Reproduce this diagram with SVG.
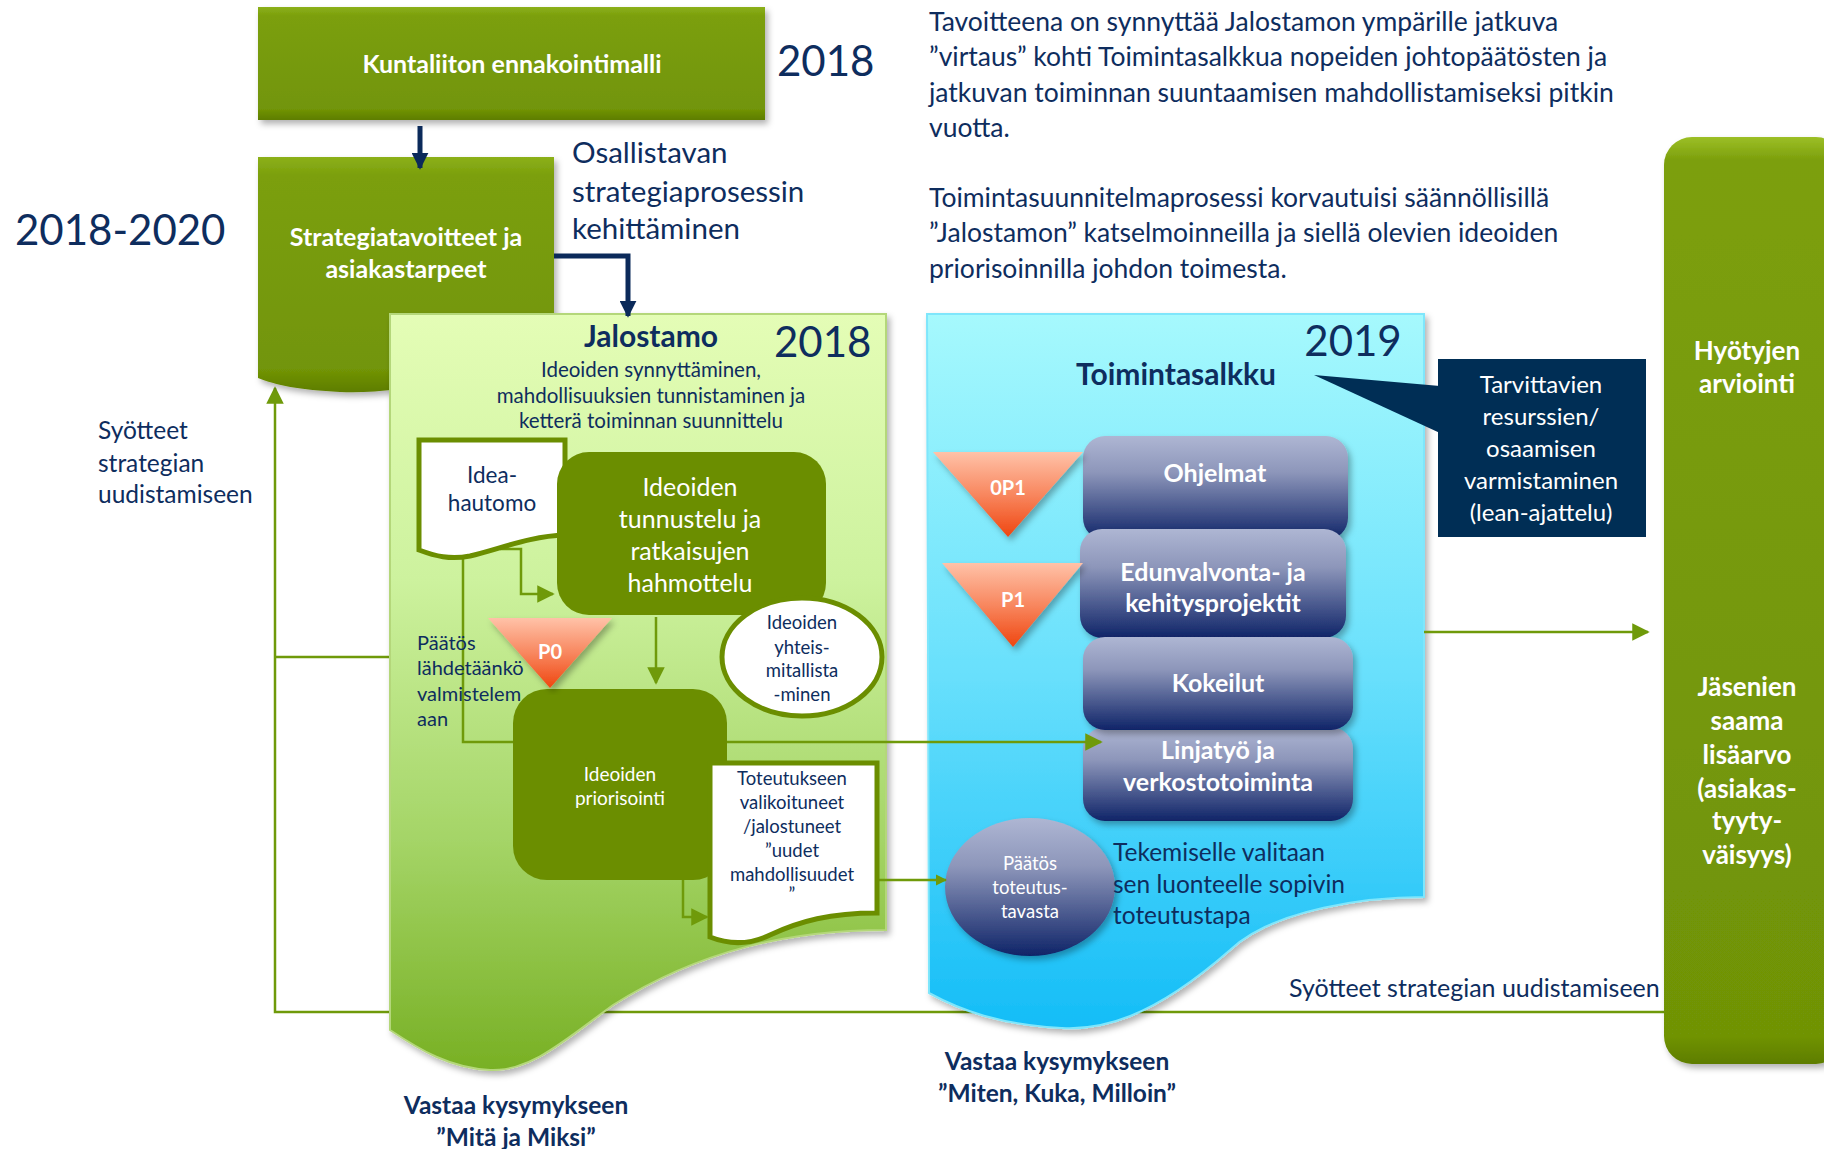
<svg xmlns="http://www.w3.org/2000/svg" width="1824" height="1149" viewBox="0 0 1824 1149">
<defs>
<style>
text{font-family:Lato,"Open Sans","Liberation Sans",sans-serif;}
.navy{fill:#0e2d5e;}
.wh{fill:#ffffff;}
.b{font-weight:bold;}
.mid{text-anchor:middle;}
.gl{fill:none;stroke:#6f9a0a;stroke-width:2.5;}
.nl{fill:none;stroke:#0b2a5a;stroke-width:5;}
.doc{fill:#ffffff;stroke:#6b8e00;stroke-width:5;}
.dg{fill:#6b8e00;}
</style>
<linearGradient id="gGreen" x1="0" y1="0" x2="0" y2="1">
<stop offset="0" stop-color="#8cb01a"/><stop offset="0.08" stop-color="#7b9f0c"/><stop offset="0.9" stop-color="#729507"/><stop offset="1" stop-color="#5e7d00"/>
</linearGradient>
<linearGradient id="gGreenTall" x1="0" y1="0" x2="0" y2="1">
<stop offset="0" stop-color="#9cbf26"/><stop offset="0.025" stop-color="#7c9f0c"/><stop offset="0.97" stop-color="#709306"/><stop offset="1" stop-color="#5e7d00"/>
</linearGradient>
<linearGradient id="gJal" x1="0" y1="0" x2="0" y2="1">
<stop offset="0" stop-color="#e4fdb6"/><stop offset="0.35" stop-color="#cdf29e"/><stop offset="0.7" stop-color="#a4d466"/><stop offset="1" stop-color="#78b024"/>
</linearGradient>
<linearGradient id="gBlue" x1="0" y1="0" x2="0" y2="1">
<stop offset="0" stop-color="#a6f9fd"/><stop offset="0.5" stop-color="#69e0fc"/><stop offset="1" stop-color="#14bdf7"/>
</linearGradient>
<linearGradient id="gPurp" x1="0" y1="0" x2="0" y2="1">
<stop offset="0" stop-color="#aeb6d3"/><stop offset="0.35" stop-color="#8d96ba"/><stop offset="1" stop-color="#0f2468"/>
</linearGradient>
<linearGradient id="gTri" x1="0" y1="0" x2="0" y2="1">
<stop offset="0" stop-color="#ffc2a8"/><stop offset="0.5" stop-color="#f8875f"/><stop offset="1" stop-color="#ef4610"/>
</linearGradient>
<filter id="sh" x="-5%" y="-5%" width="115%" height="115%">
<feDropShadow dx="3" dy="4" stdDeviation="3" flood-color="#000" flood-opacity="0.3"/>
</filter>
<marker id="aN" viewBox="0 0 10 10" refX="9" refY="5" markerWidth="3.4" markerHeight="3.4" orient="auto" markerUnits="strokeWidth">
<path d="M0,0 L10,5 L0,10 Z" fill="#0b2a5a"/>
</marker>
<marker id="aG" viewBox="0 0 10 10" refX="9" refY="5" markerWidth="7" markerHeight="7" orient="auto" markerUnits="strokeWidth">
<path d="M0,0 L10,5 L0,10 Z" fill="#6f9a0a"/>
</marker>
<marker id="aG2" viewBox="0 0 10 10" refX="9" refY="5" markerWidth="4.5" markerHeight="4.5" orient="auto" markerUnits="strokeWidth">
<path d="M0,0 L10,5 L0,10 Z" fill="#6f9a0a"/>
</marker>
</defs>
<rect width="1824" height="1149" fill="#ffffff"/>

<g id="connectors-back">
<path class="gl" d="M1664,1012 H275 V388" marker-end="url(#aG)"/>
<path class="gl" d="M390,657 H275"/>
</g>

<g id="strategia">
<path d="M258,157 H554 V360 C480,368 420,395 340,392 C300,390 275,385 258,378 Z" fill="url(#gGreen)" filter="url(#sh)"/>
<text class="wh b mid" x="406" y="246" font-size="25">Strategiatavoitteet ja</text>
<text class="wh b mid" x="406" y="278" font-size="25">asiakastarpeet</text>
</g>

<g id="kuntaliitto">
<rect x="258" y="7" width="507" height="113" fill="url(#gGreen)" filter="url(#sh)"/>
<text class="wh b mid" x="512" y="73" font-size="25">Kuntaliiton ennakointimalli</text>
</g>

<g id="jalostamo">
<path d="M390,314 H886 V930 C790,930 700,950 613,1005 C565,1040 530,1072 490,1070 C450,1068 420,1050 390,1030 Z" fill="url(#gJal)" stroke="#b4d77a" stroke-width="2" filter="url(#sh)"/>
<text class="navy b mid" x="651" y="347" font-size="30">Jalostamo</text>
<text class="navy" x="774" y="357" font-size="42">2018</text>
<text class="navy mid" x="651" y="377" font-size="20.5">Ideoiden synnyttäminen,</text>
<text class="navy mid" x="651" y="403" font-size="20.5">mahdollisuuksien tunnistaminen ja</text>
<text class="navy mid" x="651" y="428" font-size="20.5">ketterä toiminnan suunnittelu</text>
</g>

<g id="toimintasalkku">
<path d="M927,314 H1424 V897 C1370,897 1275,908 1230,950 C1150,1020 1100,1030 1062,1028 C1000,1025 960,1010 929,993 Z" fill="url(#gBlue)" stroke="#7fe6fb" stroke-width="2" filter="url(#sh)"/>
<text class="navy mid" x="1353" y="356" font-size="42">2019</text>
<text class="navy b mid" x="1176" y="385" font-size="30">Toimintasalkku</text>
</g>

<g id="ohjelmat">
<rect x="1083" y="436" width="265" height="104" rx="22" fill="url(#gPurp)" filter="url(#sh)"/>
<text class="wh b mid" x="1215" y="482" font-size="25">Ohjelmat</text>
</g>
<g id="edunvalvonta">
<rect x="1080" y="529" width="266" height="109" rx="22" fill="url(#gPurp)" filter="url(#sh)"/>
<text class="wh b mid" x="1213" y="581" font-size="25">Edunvalvonta- ja</text>
<text class="wh b mid" x="1213" y="612" font-size="25">kehitysprojektit</text>
</g>
<g id="linjatyo">
<rect x="1083" y="727" width="270" height="94" rx="22" fill="url(#gPurp)" filter="url(#sh)"/>
<text class="wh b mid" x="1218" y="759" font-size="25">Linjatyö ja</text>
<text class="wh b mid" x="1218" y="791" font-size="25">verkostotoiminta</text>
</g>
<g id="kokeilut">
<rect x="1083" y="637" width="270" height="93" rx="22" fill="url(#gPurp)" filter="url(#sh)"/>
<text class="wh b mid" x="1218" y="692" font-size="25">Kokeilut</text>
</g>

<g id="op1">
<path d="M933,452 H1083 L1008,537 Z" fill="url(#gTri)" filter="url(#sh)"/>
<text class="wh b mid" x="1008" y="495" font-size="20">0P1</text>
</g>
<g id="p1">
<path d="M942,563 H1083 L1013,647 Z" fill="url(#gTri)" filter="url(#sh)"/>
<text class="wh b mid" x="1013" y="607" font-size="20">P1</text>
</g>

<g id="paatos-toteutus">
<ellipse cx="1030" cy="887" rx="85" ry="69" fill="url(#gPurp)" filter="url(#sh)"/>
<text class="wh mid" x="1030" y="870" font-size="18.5">Päätös</text>
<text class="wh mid" x="1030" y="894" font-size="18.5">toteutus-</text>
<text class="wh mid" x="1030" y="918" font-size="18.5">tavasta</text>
</g>

<g id="connectors">
<path class="nl" d="M420,126 V168" marker-end="url(#aN)"/>
<path class="nl" d="M554,256 H628 V316" marker-end="url(#aN)"/>
<path class="gl" d="M463,557 V742 H1101" marker-end="url(#aG)"/>
<path class="gl" d="M500,549 H521 V594 H553" marker-end="url(#aG)"/>
<path class="gl" d="M656,617 V683" marker-end="url(#aG)"/>
<path class="gl" d="M683,880 V917 H707" marker-end="url(#aG)"/>
<path class="gl" stroke-width="4" d="M877,880 H946" marker-end="url(#aG2)"/>
<path class="gl" stroke-width="3" d="M1424,632 H1648" marker-end="url(#aG)"/>
</g>

<g id="ideahautomo">
<path class="doc" d="M419,440 H565 V535 C530,536 500,549 470,556 C450,560 435,556 419,550 Z"/>
<text class="navy mid" x="492" y="483" font-size="22.5">Idea-</text>
<text class="navy mid" x="492" y="511" font-size="22.5">hautomo</text>
</g>

<g id="tunnustelu">
<rect class="dg" x="557" y="452" width="269" height="163" rx="32"/>
<text class="wh mid" x="690" y="496" font-size="25">Ideoiden</text>
<text class="wh mid" x="690" y="528" font-size="25">tunnustelu ja</text>
<text class="wh mid" x="690" y="560" font-size="25">ratkaisujen</text>
<text class="wh mid" x="690" y="592" font-size="25">hahmottelu</text>
</g>

<g id="yhteismitallistaminen">
<ellipse class="doc" cx="802" cy="657" rx="80" ry="59"/>
<text class="navy mid" x="802" y="629" font-size="18.5">Ideoiden</text>
<text class="navy mid" x="802" y="654" font-size="18.5">yhteis-</text>
<text class="navy mid" x="802" y="677" font-size="18.5">mitallista</text>
<text class="navy mid" x="802" y="701" font-size="18.5">-minen</text>
</g>

<g id="paatos-text">
<text class="navy" x="417" y="650" font-size="20">Päätös</text>
<text class="navy" x="417" y="675" font-size="20">lähdetäänkö</text>
<text class="navy" x="417" y="701" font-size="20">valmistelem</text>
<text class="navy" x="417" y="726" font-size="20">aan</text>
</g>

<g id="priorisointi">
<rect class="dg" x="513" y="689" width="214" height="191" rx="34"/>
<text class="wh mid" x="620" y="781" font-size="19">Ideoiden</text>
<text class="wh mid" x="620" y="805" font-size="19">priorisointi</text>
</g>

<g id="p0">
<path d="M488,618 H612 L550,688 Z" fill="url(#gTri)" filter="url(#sh)"/>
<text class="wh b mid" x="550" y="659" font-size="20">P0</text>
</g>

<g id="toteutukseen">
<path class="doc" d="M710,763 H877 V913 C830,913 800,921 770,935 C745,947 725,943 710,937 Z"/>
<text class="navy mid" x="792" y="785" font-size="18.5">Toteutukseen</text>
<text class="navy mid" x="792" y="809" font-size="18.5">valikoituneet</text>
<text class="navy mid" x="792" y="833" font-size="18.5">/jalostuneet</text>
<text class="navy mid" x="792" y="857" font-size="18.5">”uudet</text>
<text class="navy mid" x="792" y="881" font-size="18.5">mahdollisuudet</text>
<text class="navy mid" x="792" y="901" font-size="18.5">”</text>
</g>

<g id="tekemiselle">
<text class="navy" x="1113" y="861" font-size="24.5">Tekemiselle valitaan</text>
<text class="navy" x="1113" y="893" font-size="24.5">sen luonteelle sopivin</text>
<text class="navy" x="1113" y="924" font-size="24.5">toteutustapa</text>
</g>

<g id="callout">
<path d="M1314,375 L1440,386 L1440,433 Z" fill="#002e55"/>
<rect x="1438" y="359" width="208" height="178" fill="#002e55"/>
<text class="wh mid" x="1541" y="393" font-size="24">Tarvittavien</text>
<text class="wh mid" x="1541" y="425" font-size="24">resurssien/</text>
<text class="wh mid" x="1541" y="457" font-size="24">osaamisen</text>
<text class="wh mid" x="1541" y="489" font-size="24">varmistaminen</text>
<text class="wh mid" x="1541" y="521" font-size="24">(lean-ajattelu)</text>
</g>

<g id="hyodyt">
<rect x="1664" y="137" width="180" height="927" rx="28" fill="url(#gGreenTall)" filter="url(#sh)"/>
<text class="wh b mid" x="1747" y="360" font-size="26">Hyötyjen</text>
<text class="wh b mid" x="1747" y="393" font-size="26">arviointi</text>
<text class="wh b mid" x="1747" y="696" font-size="26">Jäsenien</text>
<text class="wh b mid" x="1747" y="730" font-size="26">saama</text>
<text class="wh b mid" x="1747" y="764" font-size="26">lisäarvo</text>
<text class="wh b mid" x="1747" y="798" font-size="26">(asiakas-</text>
<text class="wh b mid" x="1747" y="830" font-size="26">tyyty-</text>
<text class="wh b mid" x="1747" y="864" font-size="26">väisyys)</text>
</g>

<g id="labels">
<text class="navy" x="777" y="76" font-size="42">2018</text>
<text class="navy" x="15" y="245" font-size="42">2018-2020</text>
<text class="navy" x="572" y="163" font-size="29.5">Osallistavan</text>
<text class="navy" x="572" y="202" font-size="29.5">strategiaprosessin</text>
<text class="navy" x="572" y="239" font-size="29.5">kehittäminen</text>
<text class="navy" x="98" y="439" font-size="24.5">Syötteet</text>
<text class="navy" x="98" y="472" font-size="24.5">strategian</text>
<text class="navy" x="98" y="503" font-size="24.5">uudistamiseen</text>
<text class="navy" x="1289" y="997" font-size="25">Syötteet strategian uudistamiseen</text>
<text class="navy b mid" x="516" y="1114" font-size="24.5">Vastaa kysymykseen</text>
<text class="navy b mid" x="516" y="1146" font-size="24.5">”Mitä ja Miksi”</text>
<text class="navy b mid" x="1057" y="1070" font-size="24.5">Vastaa kysymykseen</text>
<text class="navy b mid" x="1057" y="1102" font-size="24.5">”Miten, Kuka, Milloin”</text>
</g>

<g id="paragraph">
<text class="navy" x="929" y="31" font-size="26.5">Tavoitteena on synnyttää Jalostamon ympärille jatkuva</text>
<text class="navy" x="929" y="66" font-size="26.5">”virtaus” kohti Toimintasalkkua nopeiden johtopäätösten ja</text>
<text class="navy" x="929" y="102" font-size="26.5">jatkuvan toiminnan suuntaamisen mahdollistamiseksi pitkin</text>
<text class="navy" x="929" y="137" font-size="26.5">vuotta.</text>
<text class="navy" x="929" y="207" font-size="26.5">Toimintasuunnitelmaprosessi korvautuisi säännöllisillä</text>
<text class="navy" x="929" y="242" font-size="26.5">”Jalostamon” katselmoinneilla ja siellä olevien ideoiden</text>
<text class="navy" x="929" y="278" font-size="26.5">priorisoinnilla johdon toimesta.</text>
</g>
</svg>
